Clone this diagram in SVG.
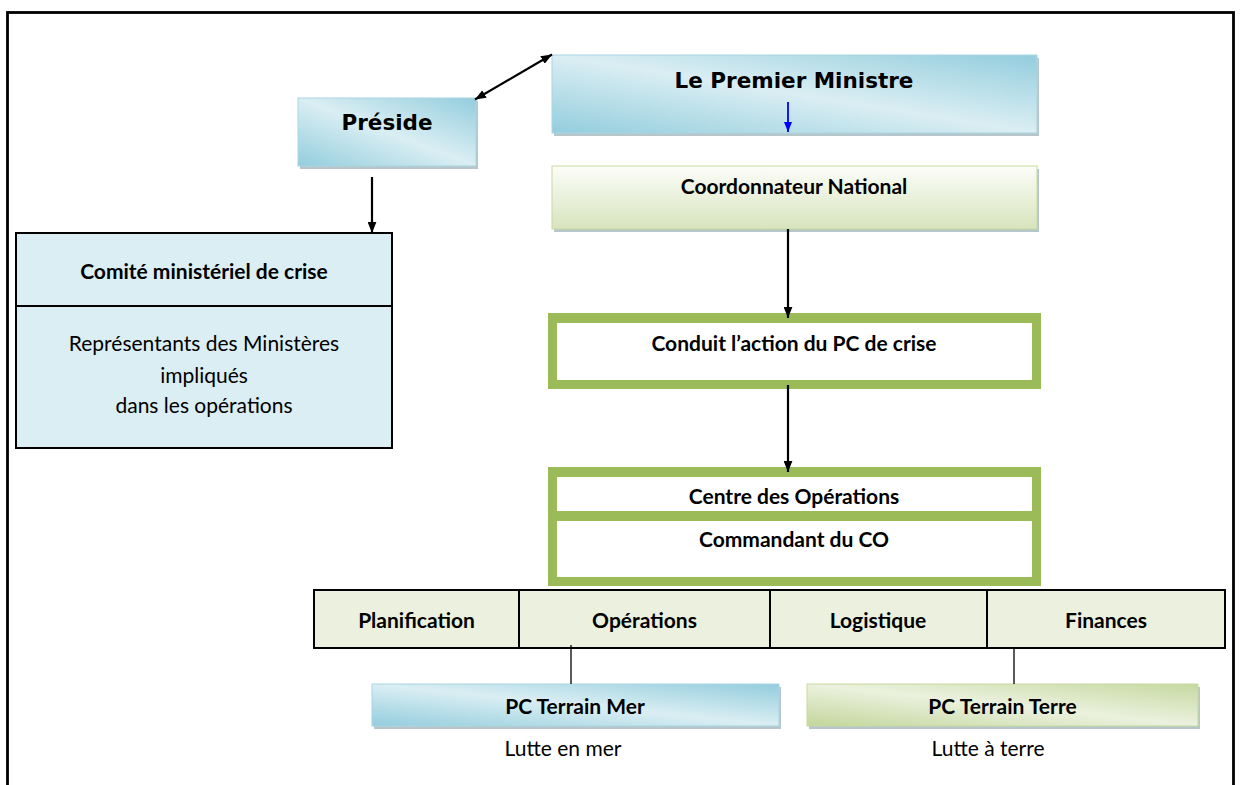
<svg xmlns="http://www.w3.org/2000/svg" width="1242" height="785" viewBox="0 0 1242 785">
<defs>
<linearGradient id="gBlue" x1="0" y1="1" x2="1" y2="0">
<stop offset="0" stop-color="#93CDDD"/>
<stop offset="0.5" stop-color="#DAEEF3"/>
<stop offset="1" stop-color="#93CDDD"/>
</linearGradient>
<linearGradient id="gGreenV" x1="0" y1="0" x2="0" y2="1">
<stop offset="0" stop-color="#FCFDF9"/>
<stop offset="1" stop-color="#D7E4BD"/>
</linearGradient>
<linearGradient id="gGreenD" x1="0" y1="1" x2="1" y2="0">
<stop offset="0" stop-color="#C3D69B"/>
<stop offset="0.5" stop-color="#EBF1DE"/>
<stop offset="1" stop-color="#C6D9A0"/>
</linearGradient>
<marker id="ah" viewBox="0 0 10 8" refX="10" refY="4" markerWidth="11" markerHeight="9" markerUnits="userSpaceOnUse" orient="auto-start-reverse">
<path d="M0,0 L10,4 L0,8 z" fill="#000"/>
</marker>
<marker id="ahBlue" viewBox="0 0 10 8" refX="10" refY="4" markerWidth="10" markerHeight="8" markerUnits="userSpaceOnUse" orient="auto">
<path d="M0,0 L10,4 L0,8 z" fill="#0000FF"/>
</marker>
</defs>
<style>
.t{font-family:Lato,"Liberation Sans",sans-serif;font-size:21px;fill:#000;text-anchor:middle}
.b{font-weight:bold}
.v{font-family:"DejaVu Sans",Verdana,sans-serif;font-weight:bold;font-size:21.5px;fill:#000;text-anchor:middle}
.sh{fill:#9FB3BA;opacity:0.75}
.blueBox{fill:url(#gBlue);stroke:#A9D6E3;stroke-width:1}
.greenBox{fill:url(#gGreenV);stroke:#C7DA9F;stroke-width:1}
.green2{fill:url(#gGreenD);stroke:#C7DA9F;stroke-width:1}
.frame{fill:#9BBB59}
.inner{fill:#fff}
.conn{stroke:#000;stroke-width:2.2;fill:none}
</style>

<rect x="7.5" y="12.5" width="1226" height="800" fill="none" stroke="#000" stroke-width="2.8"/>

<g id="preside">
<rect class="sh" x="300" y="101" width="178" height="68"/>
<rect class="blueBox" x="298" y="98" width="178" height="68"/>
<text class="v" x="387" y="130">Préside</text>
</g>

<g id="premier-ministre">
<rect class="sh" x="554" y="58" width="485" height="78"/>
<rect class="blueBox" x="552" y="55" width="485" height="78"/>
<text class="v" x="794" y="87.5">Le Premier Ministre</text>
</g>

<g id="coordonnateur">
<rect class="sh" x="554" y="169" width="485" height="63"/>
<rect class="greenBox" x="552" y="166" width="485" height="63"/>
<text class="t b" x="794" y="194">Coordonnateur National</text>
</g>

<g id="comite">
<rect x="16" y="233" width="376" height="215" fill="#DBEEF3" stroke="#000" stroke-width="2"/>
<line x1="16" y1="306" x2="392" y2="306" stroke="#000" stroke-width="2"/>
<text class="t b" x="204" y="279">Comité ministériel de crise</text>
<text class="t" x="204" y="351">Représentants des Ministères</text>
<text class="t" x="204" y="383">impliqués</text>
<text class="t" x="204" y="413">dans les opérations</text>
</g>

<g id="conduit">
<rect class="frame" x="548" y="313" width="493" height="76"/>
<rect class="inner" x="557" y="323" width="475" height="57"/>
<text class="t b" x="794" y="350.5">Conduit l’action du PC de crise</text>
</g>

<g id="centre-operations">
<rect class="frame" x="548" y="467" width="493" height="119"/>
<rect class="inner" x="557" y="477" width="475" height="34"/>
<rect class="inner" x="557" y="521" width="475" height="56"/>
<text class="t b" x="794" y="504">Centre des Opérations</text>
<text class="t b" x="794" y="547">Commandant du CO</text>
</g>

<g id="sections">
<rect x="314" y="590" width="911" height="58" fill="#EBF1DE" stroke="#000" stroke-width="2"/>
<line x1="519" y1="590" x2="519" y2="648" stroke="#000" stroke-width="2"/>
<line x1="770" y1="590" x2="770" y2="648" stroke="#000" stroke-width="2"/>
<line x1="987" y1="590" x2="987" y2="648" stroke="#000" stroke-width="2"/>
<text class="t b" x="416.5" y="628">Planification</text>
<text class="t b" x="644.5" y="628">Opérations</text>
<text class="t b" x="878" y="628">Logistique</text>
<text class="t b" x="1106" y="628">Finances</text>
</g>

<g id="pc-terrain-mer">
<rect class="sh" x="374" y="687" width="407" height="42"/>
<rect class="blueBox" x="372" y="684" width="407" height="42"/>
<text class="t b" x="575" y="714">PC Terrain Mer</text>
<text class="t" x="563" y="756">Lutte en mer</text>
</g>

<g id="pc-terrain-terre">
<rect class="sh" x="809" y="687" width="391" height="42"/>
<rect class="green2" x="807" y="684" width="391" height="42"/>
<text class="t b" x="1002.5" y="714">PC Terrain Terre</text>
<text class="t" x="988" y="756">Lutte à terre</text>
</g>

<g id="connectors">
<line class="conn" x1="475" y1="99.5" x2="552" y2="54.5" stroke-width="2.6" marker-start="url(#ah)" marker-end="url(#ah)"/>
<line class="conn" x1="372" y1="177" x2="372" y2="233" marker-end="url(#ah)"/>
<line x1="788" y1="102" x2="788" y2="132" stroke="#0000FF" stroke-width="1.8" marker-end="url(#ahBlue)"/>
<line class="conn" x1="788" y1="229" x2="788" y2="318" marker-end="url(#ah)"/>
<line class="conn" x1="788" y1="385" x2="788" y2="472" marker-end="url(#ah)"/>
<line x1="571" y1="645" x2="571" y2="684" stroke="#000" stroke-width="1.3"/>
<line x1="1014" y1="648" x2="1014" y2="684" stroke="#000" stroke-width="1.3"/>
</g>
</svg>
